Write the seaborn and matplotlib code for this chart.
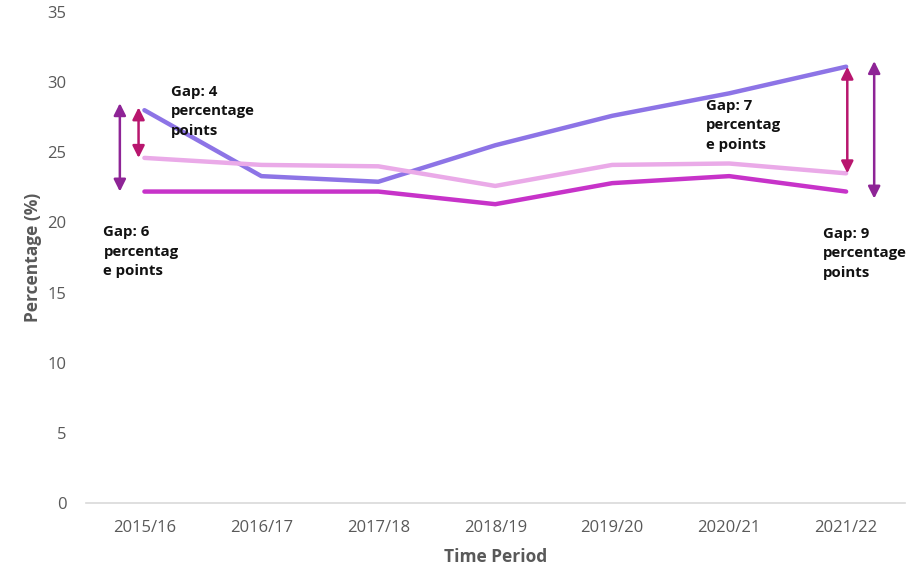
import matplotlib
matplotlib.use("Agg")
import matplotlib.pyplot as plt
import pandas as pd
import seaborn as sns

periods = ["2015/16", "2016/17", "2017/18", "2018/19", "2019/20", "2020/21", "2021/22"]
series_top = [28.0, 23.3, 22.9, 25.5, 27.6, 29.2, 31.1]
series_mid = [24.6, 24.1, 24.0, 22.6, 24.1, 24.2, 23.5]
series_low = [22.2, 22.2, 22.2, 21.3, 22.8, 23.3, 22.2]
series_names = ["Group A", "Group B", "Group C"]
line_colours = ["#8D74E6", "#EAAAE8", "#C733C9"]

gap_labels = ["Gap: 4\npercentage\npoints", "Gap: 6\npercentag\ne points",
              "Gap: 7\npercentag\ne points", "Gap: 9\npercentage\npoints"]

df = pd.DataFrame({
    "period": periods * 3,
    "value": series_top + series_mid + series_low,
    "series": [series_names[0]] * 7 + [series_names[1]] * 7 + [series_names[2]] * 7,
})

sns.set_theme(style="white")
plt.rcParams["font.family"] = ["Open Sans", "DejaVu Sans"]

fig = plt.figure(figsize=(9.24, 5.68), dpi=100)
ax = fig.add_axes([0.093, 0.1144, 0.886, 0.8645])

sns.lineplot(data=df, x="period", y="value", hue="series",
             palette=line_colours, linewidth=3.2, legend=False, ax=ax,
             sort=False)

ax.set_ylim(0, 35)
ax.set_xlim(-0.5, 6.5)
ax.set_yticks(range(0, 36, 5))
ax.set_xticks(range(len(periods)))
ax.set_xticklabels(periods)
ax.set_xticks([i - 0.5 for i in range(len(periods) + 1)], minor=True)

ax.tick_params(axis="both", which="major", length=0, labelsize=12,
               labelcolor="#595959")
ax.tick_params(axis="x", which="major", pad=12)
ax.tick_params(axis="y", which="major", pad=14)
ax.tick_params(axis="x", which="minor", length=5, width=1.2, color="#D9D9D9")

for side in ["left", "right", "top"]:
    ax.spines[side].set_visible(False)
ax.spines["bottom"].set_color("#D9D9D9")
ax.spines["bottom"].set_linewidth(1.2)
ax.grid(False)

ax.set_xlabel("Time Period", fontsize=12.5, fontweight="bold",
              color="#595959", labelpad=9)
ax.set_ylabel("Percentage (%)", fontsize=12.5, fontweight="bold",
              color="#595959", labelpad=4)

inner_col = "#B8166E"
outer_col = "#8E2496"

def gap_arrow(x, y0, y1, colour):
    ax.annotate("", xy=(x, y0), xytext=(x, y1),
                arrowprops=dict(arrowstyle="<|-|>", color=colour, lw=1.8,
                                mutation_scale=18, shrinkA=0, shrinkB=0))

# 2015/16 gaps
gap_arrow(-0.21, series_low[0], series_top[0] + 0.5, outer_col)
gap_arrow(-0.05, series_mid[0], series_top[0] + 0.2, inner_col)
# 2021/22 gaps
gap_arrow(6.01, series_mid[6], series_top[6], inner_col)
gap_arrow(6.24, series_low[6] - 0.5, series_top[6] + 0.4, outer_col)

txt = dict(fontsize=10.8, fontweight="bold", color="#111111",
           linespacing=1.5, va="top", ha="left")
ax.text(0.23, 29.8, gap_labels[0], **txt)
ax.text(-0.35, 19.8, gap_labels[1], **txt)
ax.text(4.8, 28.8, gap_labels[2], **txt)
ax.text(5.8, 19.7, gap_labels[3], **txt)

fig.savefig("out.png", dpi=100)
